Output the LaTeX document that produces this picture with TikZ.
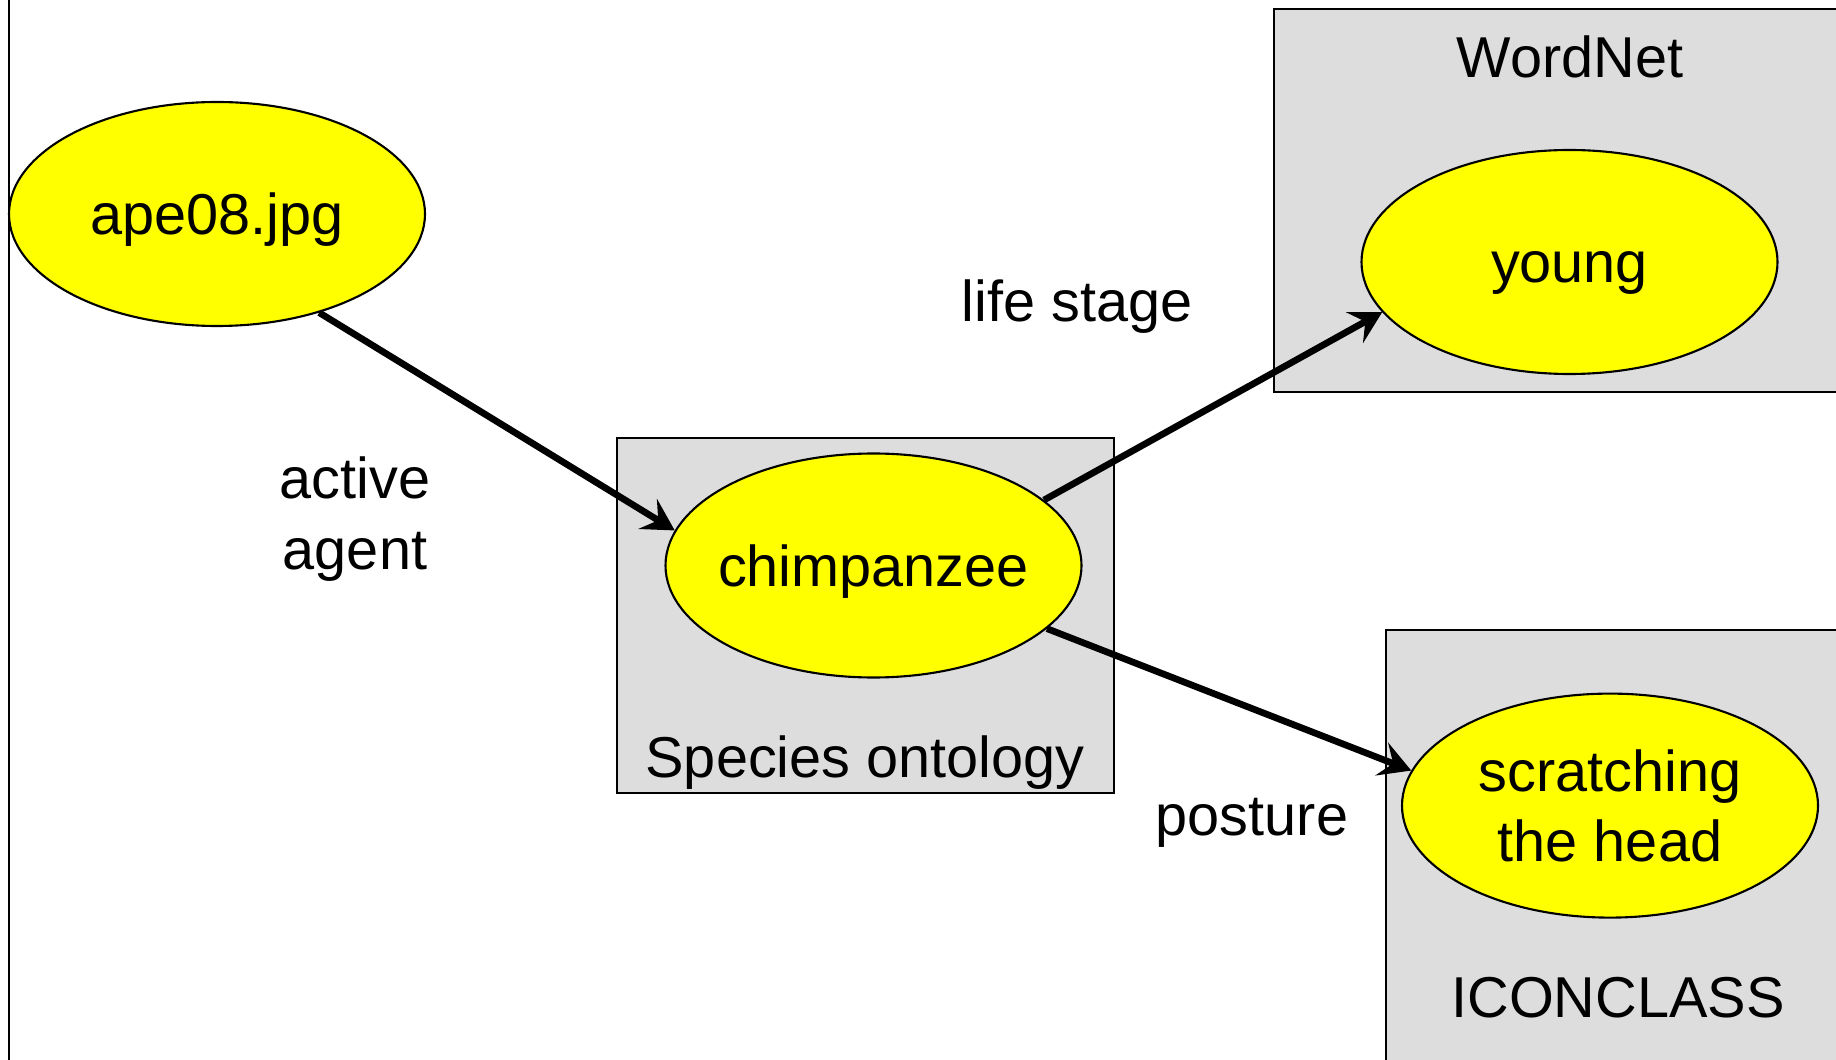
\documentclass[tikz,border=0pt]{standalone}
\usepackage{fontspec}
\setmainfont{Liberation Sans}
\usetikzlibrary{shapes.geometric, arrows.meta}

\definecolor{ontogray}{RGB}{221,221,221}
\definecolor{conceptyellow}{RGB}{255,255,0}

\begin{document}
\begin{tikzpicture}[>={Stealth[length=9pt,width=10pt,inset=3.5pt]}, font=\fontsize{16.4}{20}\selectfont]

  % Styles for concepts, vocabularies and relations
  \tikzset{
    concept/.style={
      ellipse, draw, fill=conceptyellow, line width=0.6pt,
      minimum width=4.16cm, minimum height=2.24cm,
      inner xsep=-5mm, inner ysep=0pt, align=center
    },
    oneline/.style={concept, text height=0.42cm, text depth=0pt},
    vocab/.style={rectangle, draw, fill=ontogray, line width=0.6pt},
    relation/.style={->, line width=1.9pt}
  }

  % Page frame
  \useasboundingbox (0,0) rectangle (18.36,-10.60);
  \clip (0,0) rectangle (18.36,-10.60);
  \draw[line width=0.6pt] (0.09,0) -- (0.09,-10.60);

  % Vocabularies (grey boxes)
  \node[vocab, minimum width=4.97cm, minimum height=3.55cm] (species) at (8.655,-6.155) {};
  \node[vocab, minimum width=5.90cm, minimum height=3.83cm] (wordnet) at (15.69,-2.005) {};
  \node[vocab, minimum width=4.80cm, minimum height=4.60cm] (iconclass) at (16.26,-8.60) {};

  % Box titles
  \node[anchor=base] (wordnettitle) at (15.70,-0.78) {WordNet};
  \node[anchor=base] (speciestitle) at (8.65,-7.77) {Species ontology};
  \node[anchor=base] (iconclasstitle) at (16.18,-10.17) {ICONCLASS};

  % Concepts
  \node[oneline] (ape) at (2.17,-2.14) {ape08.jpg};
  \node[oneline] (chimp) at (8.735,-5.655) {chimpanzee};
  \node[oneline] (young) at (15.695,-2.62) {young};
  \node[concept] (scratch) at (16.10,-8.056) {scratching\\the head};

  % Relations
  \draw[relation] (ape.-44.4) -- (chimp.170.5);
  \draw[relation] (chimp.21.8) -- (young.-165.1);
  \draw[relation] (chimp.-20.1) -- (scratch.170.4);

  % Relation names
  \node[align=center] (agentlabel) at (3.55,-5.19) {active\\agent};
  \node[anchor=base] (lifestage) at (10.77,-3.22) {life stage};
  \node[anchor=base] (posture) at (12.52,-8.35) {posture};

\end{tikzpicture}
\end{document}
